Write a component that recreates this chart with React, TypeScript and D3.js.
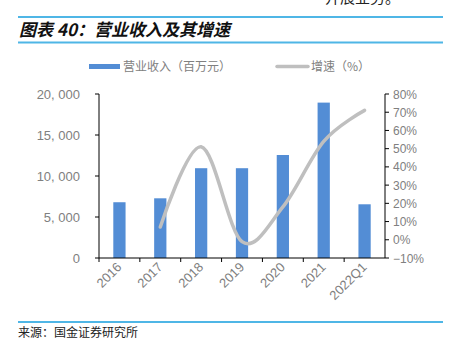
import React from 'react';
import * as d3 from 'd3';

const years = ['2016', '2017', '2018', '2019', '2020', '2021', '2022Q1'];
const revenue = [6800, 7280, 10950, 10950, 12560, 18950, 6550];
const growth = [null, 7, 51, -1, 18, 54, 71];
const leftTicks = [0, 5000, 10000, 15000, 20000];
const rightTicks = [-10, 0, 10, 20, 30, 40, 50, 60, 70, 80];

const W = 452;
const H = 352;
const m = { left: 99, right: 385, top: 94, bottom: 258 };
const BLUE = '#538dd5';
const GRAY_LINE = '#bfbfbf';
const TXT = '#808080';
const RULE = '#4fb6e6';

const App = () => {
  const x = d3.scaleBand<string>().domain(years).range([m.left, m.right]);
  const yL = d3.scaleLinear().domain([0, 20000]).range([m.bottom, m.top]);
  const yR = d3.scaleLinear().domain([-10, 80]).range([m.bottom, m.top]);
  const fmt = (v: number) => d3.format(',')(v).replace(',', ', ');
  const bw = x.bandwidth() * 0.3;

  const pts = years
    .map((y, i) => ({ y, g: growth[i] }))
    .filter(d => d.g !== null) as { y: string; g: number }[];
  const line = d3.line<{ y: string; g: number }>()
    .x(d => x(d.y)! + x.bandwidth() / 2)
    .y(d => yR(d.g))
    .curve(d3.curveCardinal.tension(0));

  const font = '"Noto Sans CJK SC", "Noto Sans", sans-serif';
  const numFont = '"Liberation Sans", Arial, sans-serif';

  return (
    <svg width={W} height={H} style={{ position: 'absolute', left: 0, top: 0 }} fontFamily={font}>
      <rect width={W} height={H} fill="#fff" />
      {/* text from the page above, cut off in the source too */}
      <text x={325} y={3} fontSize={15} fill="#222">开展业务。</text>
      <line x1={18} x2={443} y1={17} y2={17} stroke={RULE} strokeWidth={2} />
      <text x={19} y={36} fontSize={17} fontWeight="bold" fontStyle="italic" fill="#111">图表 40：营业收入及其增速</text>
      <line x1={18} x2={443} y1={42.5} y2={42.5} stroke={RULE} strokeWidth={2} />

      {/* legend */}
      <rect x={89} y={64} width={31} height={5} fill={BLUE} />
      <text x={123} y={71} fontSize={12} fill={TXT}>营业收入（百万元）</text>
      <line x1={277} x2={308} y1={66.5} y2={66.5} stroke={GRAY_LINE} strokeWidth={3.5} strokeLinecap="round" />
      <text x={311} y={71} fontSize={12} fill={TXT}>增速（%）</text>

      {/* bars */}
      {years.map((y, i) => (
        <rect key={y} x={x(y)! + (x.bandwidth() - bw) / 2} y={yL(revenue[i])}
          width={bw} height={m.bottom - yL(revenue[i])} fill={BLUE} />
      ))}

      {/* growth line */}
      <path d={line(pts) || ''} fill="none" stroke={GRAY_LINE} strokeWidth={3.5} strokeLinecap="round" />

      {/* left axis */}
      <line x1={m.left} x2={m.left} y1={m.top} y2={m.bottom} stroke="#000" />
      {leftTicks.map(t => (
        <g key={t}>
          <line x1={m.left - 4} x2={m.left} y1={yL(t)} y2={yL(t)} stroke="#000" />
          <text x={80} y={yL(t) + 4.5} fontSize={13} textAnchor="end" fill={TXT} fontFamily={numFont}>{fmt(t)}</text>
        </g>
      ))}

      {/* right axis */}
      <line x1={m.right} x2={m.right} y1={m.top} y2={m.bottom} stroke="#000" />
      {rightTicks.map(t => (
        <g key={t}>
          <line x1={m.right} x2={m.right + 4} y1={yR(t)} y2={yR(t)} stroke="#000" />
          <text x={393} y={yR(t) + 4.5} fontSize={12} fill={TXT} fontFamily={numFont}>{t < 0 ? '−' + Math.abs(t) : t}%</text>
        </g>
      ))}

      {/* bottom axis */}
      <line x1={m.left} x2={m.right} y1={m.bottom} y2={m.bottom} stroke="#000" />
      {years.map(y => (
        <line key={'t' + y} x1={x(y)!} x2={x(y)!} y1={m.bottom} y2={m.bottom + 4} stroke="#000" />
      ))}
      {years.map(y => {
        const cx = x(y)! + x.bandwidth() / 2 + 3;
        const cy = m.bottom + 10;
        return (
          <text key={'l' + y} x={cx} y={cy} fontSize={13} textAnchor="end" fill={TXT} fontFamily={numFont}
            transform={`rotate(-45 ${cx} ${cy})`}>{y}</text>
        );
      })}

      {/* source */}
      <line x1={18} x2={443} y1={322} y2={322} stroke={RULE} strokeWidth={2} />
      <text x={18} y={337} fontSize={12} fill="#222">来源：国金证券研究所</text>
    </svg>
  );
};

export default App;
